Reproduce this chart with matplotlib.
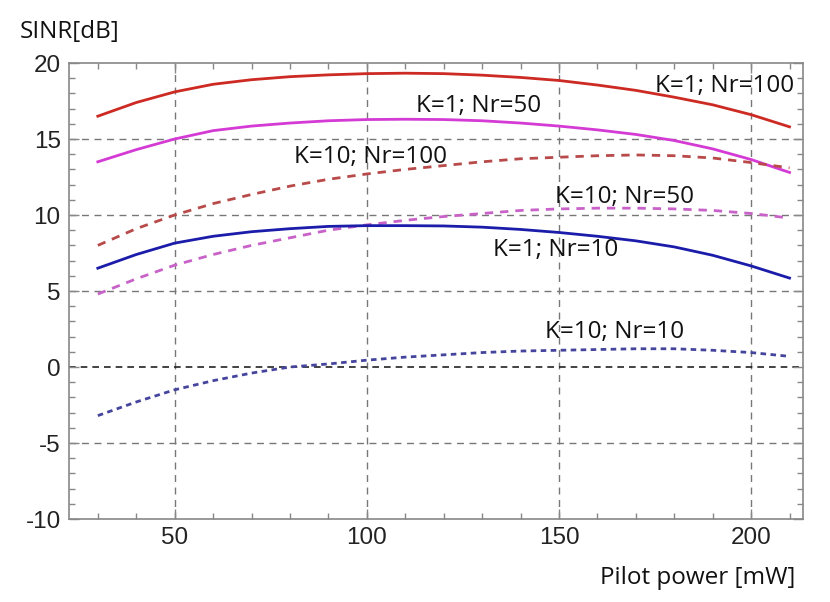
import numpy as np
import matplotlib
matplotlib.use('Agg')
import matplotlib.pyplot as plt
from matplotlib.ticker import MultipleLocator

plt.rcParams['font.family'] = ['Liberation Sans', 'DejaVu Sans']
plt.rcParams['axes.unicode_minus'] = False

# Pilot power [mW] sample points
power = [30, 40, 50, 60, 70, 80, 90, 100, 110, 120, 130, 140, 150, 160, 170, 180, 190, 200, 210]

# SINR [dB] per configuration
k1_nr100 = [16.5, 17.4, 18.1, 18.6, 18.9, 19.1, 19.22, 19.3, 19.33, 19.3, 19.2, 19.05, 18.85, 18.55, 18.2, 17.75, 17.25, 16.6, 15.8]
k1_nr50 = [13.5, 14.3, 15.0, 15.55, 15.85, 16.05, 16.2, 16.28, 16.3, 16.28, 16.2, 16.05, 15.85, 15.6, 15.3, 14.9, 14.35, 13.65, 12.8]
k10_nr100 = [8.0, 9.1, 10.0, 10.75, 11.35, 11.9, 12.35, 12.7, 13.0, 13.25, 13.5, 13.7, 13.8, 13.9, 13.95, 13.9, 13.75, 13.45, 13.1]
k10_nr50 = [4.8, 5.8, 6.7, 7.4, 8.0, 8.5, 9.0, 9.35, 9.65, 9.9, 10.1, 10.3, 10.4, 10.45, 10.45, 10.4, 10.3, 10.1, 9.8]
k1_nr10 = [6.5, 7.4, 8.15, 8.6, 8.9, 9.1, 9.25, 9.3, 9.3, 9.28, 9.2, 9.05, 8.85, 8.6, 8.3, 7.9, 7.35, 6.65, 5.85]
k10_nr10 = [-3.2, -2.3, -1.5, -0.9, -0.4, 0.0, 0.2, 0.45, 0.65, 0.8, 0.95, 1.05, 1.1, 1.15, 1.2, 1.2, 1.1, 0.95, 0.7]

labels = ['K=1; Nr=100', 'K=1; Nr=50', 'K=10; Nr=100', 'K=10; Nr=50', 'K=1; Nr=10', 'K=10; Nr=10']
label_x = [193, 129, 101, 167, 149, 164.5]
label_y = [18.5, 17.2, 13.8, 11.2, 7.7, 2.3]

text_font = ['Open Sans', 'DejaVu Sans']

fig = plt.figure(figsize=(8.3, 6.02), dpi=100)
ax = fig.add_axes([69 / 830, 1 - 519 / 602, (803 - 69) / 830, (519 - 63) / 602])

# Grid and zero line
for gx in [50, 100, 150, 200]:
    ax.axvline(gx, color='#777777', lw=1.0, ls=(0, (5, 4)), zorder=1)
for gy in [-5, 5, 10, 15]:
    ax.axhline(gy, color='#777777', lw=1.0, ls=(0, (5, 4)), zorder=1)
ax.axhline(0, color='#222222', lw=1.2, ls=(0, (4, 3)), zorder=1)

ax.plot(power, k1_nr100, color='#cc2a22', lw=2.0, zorder=3)
ax.plot(power, k1_nr50, color='#d43ad4', lw=2.0, zorder=3)
ax.plot(power, k10_nr100, color='#b84a4a', lw=2.0, ls=(0, (3, 2.5)), zorder=3)
ax.plot(power, k10_nr50, color='#c862c8', lw=2.0, ls=(0, (3, 2.5)), zorder=3)
ax.plot(power, k1_nr10, color='#1c1caa', lw=2.0, zorder=3)
ax.plot(power, k10_nr10, color='#45459e', lw=2.0, ls=(0, (2, 1.6)), zorder=3)

for t, x, y in zip(labels, label_x, label_y):
    ax.text(x, y, t, fontsize=17.5, family=text_font,
            ha='center', va='center', color='#111111', zorder=4)

ax.set_xlim(22.5, 213.5)
ax.set_ylim(-10, 20)
ax.xaxis.set_major_locator(MultipleLocator(50))
ax.xaxis.set_minor_locator(MultipleLocator(10))
ax.yaxis.set_major_locator(MultipleLocator(5))
ax.yaxis.set_minor_locator(MultipleLocator(1))
ax.tick_params(which='both', direction='in', top=True, right=True, color='#888888')
ax.tick_params(which='major', length=7, width=1, labelsize=17.5, pad=6, labelcolor='#222222')
ax.tick_params(which='minor', length=4, width=1)
for s in ax.spines.values():
    s.set_color('#888888')
    s.set_linewidth(1.2)

fig.text(20 / 830, 1 - 32 / 602, 'SINR[dB]', fontsize=17.5, family=text_font,
         ha='left', va='center', color='#111111')
fig.text(795 / 830, 1 - 578 / 602, 'Pilot power [mW]', fontsize=17.5, family=text_font,
         ha='right', va='center', color='#111111')

plt.savefig('out.png', dpi=100)
